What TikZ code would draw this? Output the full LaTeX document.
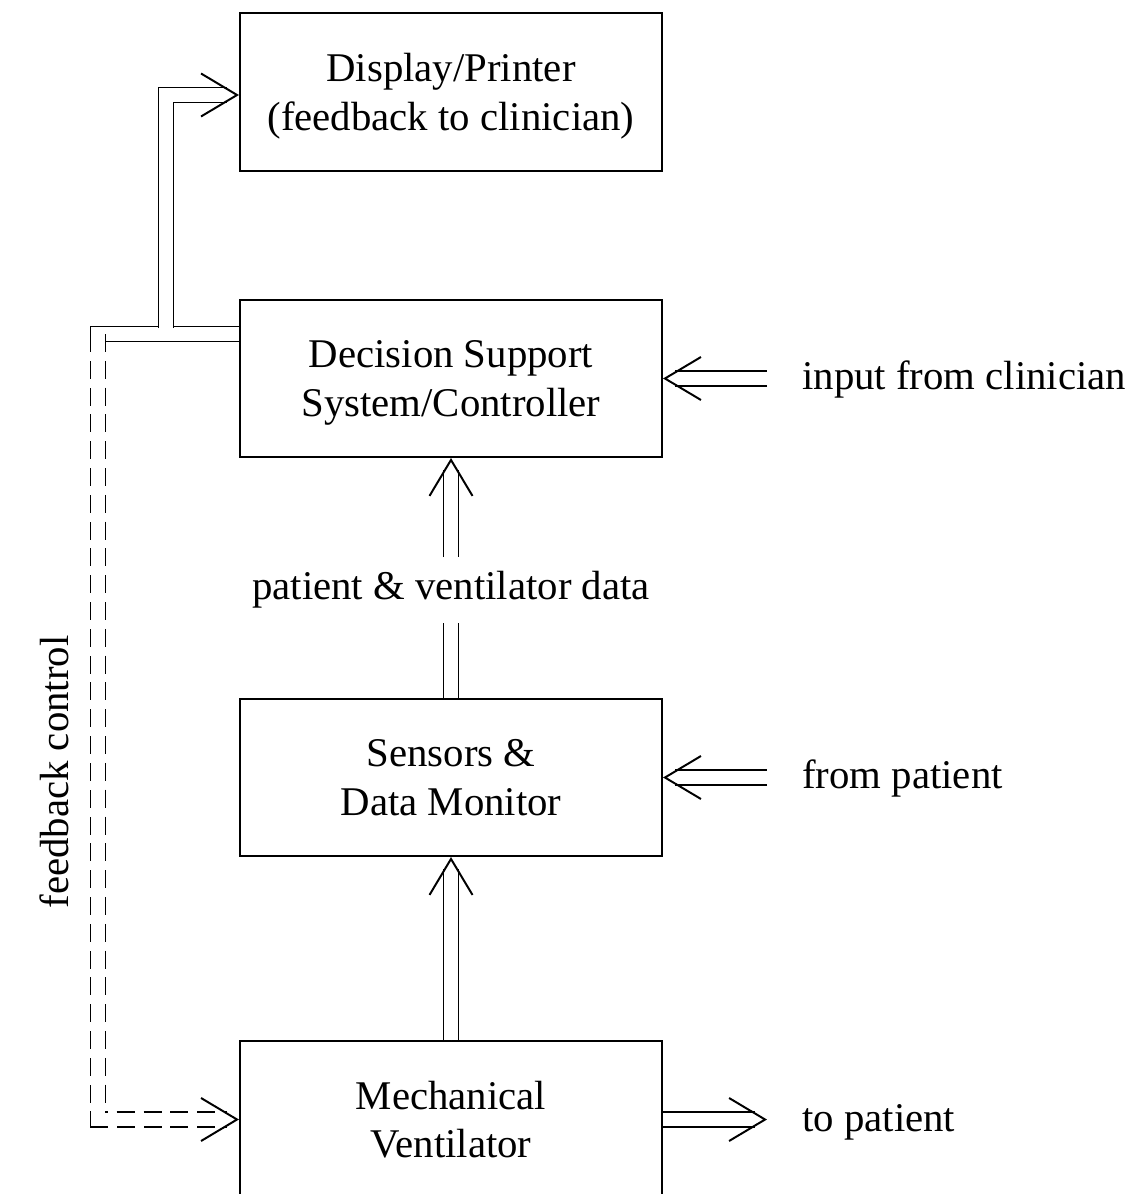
\documentclass[tikz,border=0pt]{standalone}
\usepackage{fontspec}
\setmainfont{Liberation Serif}
\usetikzlibrary{arrows.meta}

\tikzset{
  box/.style={draw, line width=1.4pt, minimum width=10.55cm, minimum height=3.925cm, align=center, text depth=0pt},
  dbl/.style={double, double distance=0.333cm, line width=1.2pt},
  tip/.style={white, line width=0.1pt, -{Straight Barb[color=black, line width=1.4pt, length=0.9cm, width=1.075cm]}},
  lbl/.style={anchor=base west, inner xsep=0.875cm}
}

\begin{document}
\begin{tikzpicture}[x=0.025cm, y=-0.025cm, font=\fontsize{29pt}{34.5pt}\selectfont]
  \useasboundingbox (0,0) rectangle (1145,1194);
  \clip (0,0) rectangle (1145,1194);
  \node [box] (disp) at (451,92) {Display/Printer\\(feedback to clinician)};
  \node [box] (dss) at (451,378.5) {Decision Support\\System/Controller};
  \node [box] (sens) at (451,777.5) {Sensors \&\\Data Monitor};
  \node [box] (vent) at (451,1119.5) {Mechanical\\Ventilator};
  \node [minimum height=1.625cm, inner sep=0pt] (pvd) at (451,590) {patient \& ventilator data};
  \node [lbl] (inp) at (767,389) {input from clinician};
  \node [lbl] (fromp) at (767,788) {from patient};
  \node [lbl] (topat) at (767,1131) {to patient};
  \node [rotate=90] (fbc) at (54,772) {feedback control};
  % inputs and output on the right
  \draw [dbl, shorten >=0.31cm] (dss.east -| inp.west) -- (dss.east);
  \draw [tip] (dss.east -| inp.west) -- (dss.east);
  \draw [dbl, shorten >=0.31cm] (sens.east -| fromp.west) -- (sens.east);
  \draw [tip] (sens.east -| fromp.west) -- (sens.east);
  \draw [dbl, shorten >=0.31cm] (vent.east) -- (vent.east -| topat.west);
  \draw [tip] (vent.east) -- (vent.east -| topat.west);
  % up the middle
  \draw [dbl] (sens.north) -- (pvd.south);
  \draw [dbl, shorten >=0.31cm] (pvd.north) -- (dss.south);
  \draw [tip] (pvd.north) -- (dss.south);
  \draw [dbl, shorten >=0.31cm] (vent.north) -- (sens.south);
  \draw [tip] (vent.north) -- (sens.south);
  % feedback loop on the left
  \coordinate (fbj) at (98,334);
  \coordinate (dj) at (166,328);
  \coordinate (dk) at (166,95);
  \draw [dbl] (dss.west |- fbj) -- (fbj) -- ++(0,12);
  \draw [dbl, dash pattern=on 0.45cm off 0.22cm, shorten >=0.31cm] (fbj) -- (fbj |- vent.west) -- (vent.west);
  \draw [tip] (fbj |- vent.west) -- (vent.west);
  \draw [dbl, shorten >=0.31cm] (dj) -- (dk) -- (dk -| disp.west);
  \draw [tip] (dk) -- (dk -| disp.west);
\end{tikzpicture}
\end{document}
